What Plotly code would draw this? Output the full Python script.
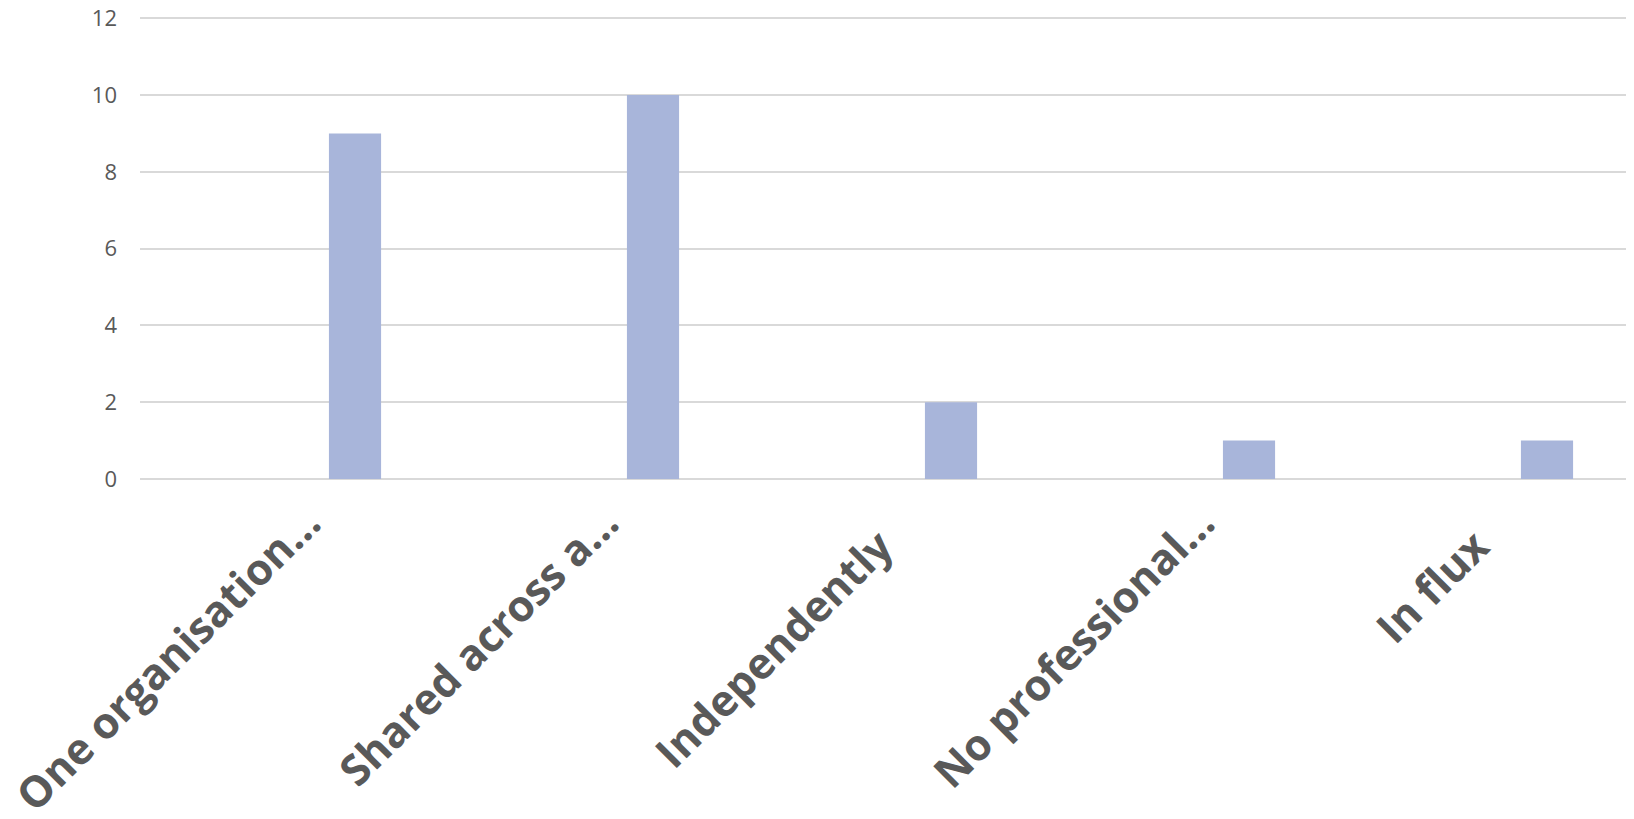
import plotly.graph_objects as go

categories = ["One organisation…", "Shared across a…", "Independently", "No professional…", "In flux"]
values = [9, 10, 2, 1, 1]
y_ticks = [0, 2, 4, 6, 8, 10, 12]

# the reference's untruncated labels sit a little lower-left than the truncated ones;
# trailing no-break spaces reproduce that without changing the visible text
tick_text = [c if c.endswith("…") else c + "\u00a0\u00a0\u00a0" for c in categories]

fig = go.Figure()
fig.add_trace(go.Bar(
    x=categories,
    y=values,
    width=0.175,
    offset=0.134,
    marker=dict(color="#A8B5DA", line=dict(width=0)),
))

# page body has an 8px default margin, so the figure is sized to fit the window
fig.update_layout(
    width=1626,
    height=811,
    margin=dict(l=132, r=4, t=8, b=340),
    paper_bgcolor="white",
    plot_bgcolor="white",
    showlegend=False,
    font=dict(family="Open Sans", color="#595959"),
)
fig.update_xaxes(
    type="category",
    tickmode="array",
    tickvals=categories,
    ticktext=tick_text,
    tickangle=-45,
    tickfont=dict(family="Open Sans", size=43, color="#595959", weight="bold"),
    showgrid=False,
    showline=False,
    ticks="",
    range=[-0.5, 4.5],
    automargin=False,
    ticklabelstandoff=9,
    ticklabelshift=19,
    ticklabeloverflow="allow",
)
fig.update_yaxes(
    range=[0, 12.06],
    tickvals=y_ticks,
    tickfont=dict(family="Open Sans", size=22, color="#595959"),
    showgrid=True,
    gridcolor="#D9D9D9",
    gridwidth=1.5,
    zeroline=True,
    zerolinecolor="#D9D9D9",
    zerolinewidth=1.5,
    showline=False,
    ticks="",
    ticklabelstandoff=22,
    ticklabeloverflow="allow",
    automargin=False,
)
fig.write_html("out.html")
